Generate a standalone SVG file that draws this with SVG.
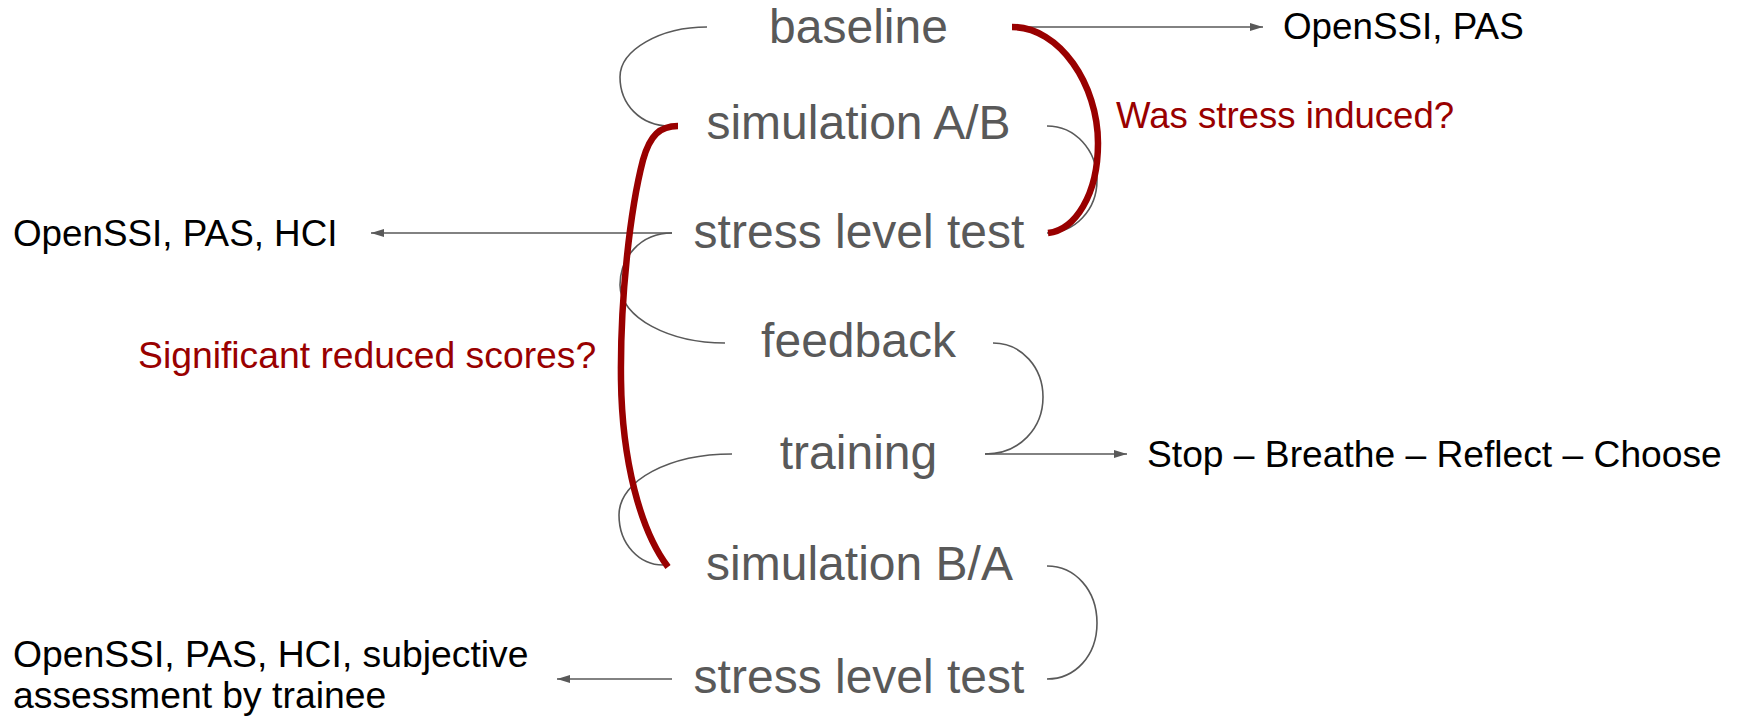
<svg xmlns="http://www.w3.org/2000/svg" width="1738" height="719" viewBox="0 0 1738 719">
  <defs>
    <marker id="arrow" markerUnits="userSpaceOnUse" markerWidth="14" markerHeight="10" viewBox="0 0 14 10" refX="13" refY="5" orient="auto">
      <path d="M0,1 L13,5 L0,9 z" fill="#595959"/>
    </marker>
    <style>
      .node { font-family: "Liberation Sans", Arial, sans-serif; font-size: 48px; fill: #595959; text-anchor: middle; }
      .meas { font-family: "Liberation Sans", Arial, sans-serif; font-size: 36.8px; fill: #000000; }
      .q { font-family: "Liberation Sans", Arial, sans-serif; font-size: 36.6px; fill: #990000; }
      .conn { fill: none; stroke: #595959; stroke-width: 1.6; }
      .arr { fill: none; stroke: #595959; stroke-width: 1.6; marker-end: url(#arrow); }
      .red { fill: none; stroke: #990000; stroke-width: 6.5; stroke-linecap: butt; }
    </style>
  </defs>
  <rect width="1738" height="719" fill="#ffffff"/>

  <g id="connectors">
    <path class="conn" d="M707,27 C660,27 620,50 620,77 C620,104 640,126 670,126"/>
    <path class="conn" d="M1047,126 C1075,126 1097,150 1097,180 C1097,210 1075,233 1047,233"/>
    <path class="conn" d="M672,233 C640,233 620,258 620,285 C620,318 670,343 725,343"/>
    <path class="conn" d="M993,343 C1022,343 1043,368 1043,397 C1043,428 1020,454 985,454"/>
    <path class="conn" d="M732,454 C670,454 619,480 619,515 C619,545 640,565 663,565"/>
    <path class="conn" d="M1047,566 C1075,566 1097,590 1097,623 C1097,656 1075,679 1047,679"/>
    <path class="arr" d="M1012,27 L1263,27"/>
    <path class="arr" d="M672,233 L371,233"/>
    <path class="arr" d="M985,454 L1127,454"/>
    <path class="arr" d="M672,679 L557,679"/>
    <path class="red" d="M1012,27 C1060,27 1098,85 1098,143 C1098,195 1075,230 1048,233"/>
    <path class="red" d="M678,126 C660,126 650,135 643,160 C630,210 620,300 621,380 C622,460 640,530 668,567"/>
  </g>

  <g id="node-baseline"><text class="node" x="858.5" y="43">baseline</text></g>
  <g id="node-simulation-ab"><text class="node" x="858.5" y="139">simulation A/B</text></g>
  <g id="node-stress-test-1"><text class="node" x="859" y="248">stress level test</text></g>
  <g id="node-feedback"><text class="node" x="858.5" y="357">feedback</text></g>
  <g id="node-training"><text class="node" x="858.5" y="469">training</text></g>
  <g id="node-simulation-ba"><text class="node" x="859.5" y="580">simulation B/A</text></g>
  <g id="node-stress-test-2"><text class="node" x="859" y="693">stress level test</text></g>

  <g id="label-openssi-pas"><text class="meas" x="1283" y="39">OpenSSI, PAS</text></g>
  <g id="label-openssi-pas-hci"><text class="meas" x="13" y="246">OpenSSI, PAS, HCI</text></g>
  <g id="label-sbrc"><text class="meas" x="1147" y="467" style="font-size:37.2px">Stop – Breathe – Reflect – Choose</text></g>
  <g id="label-final">
    <text class="meas" x="13" y="667" style="font-size:37.3px">OpenSSI, PAS, HCI, subjective</text>
    <text class="meas" x="13" y="708" style="font-size:37.3px">assessment by trainee</text>
  </g>
  <g id="question-stress"><text class="q" x="1116" y="128">Was stress induced?</text></g>
  <g id="question-reduced"><text class="q" x="138" y="368" style="font-size:37.3px">Significant reduced scores?</text></g>
</svg>
